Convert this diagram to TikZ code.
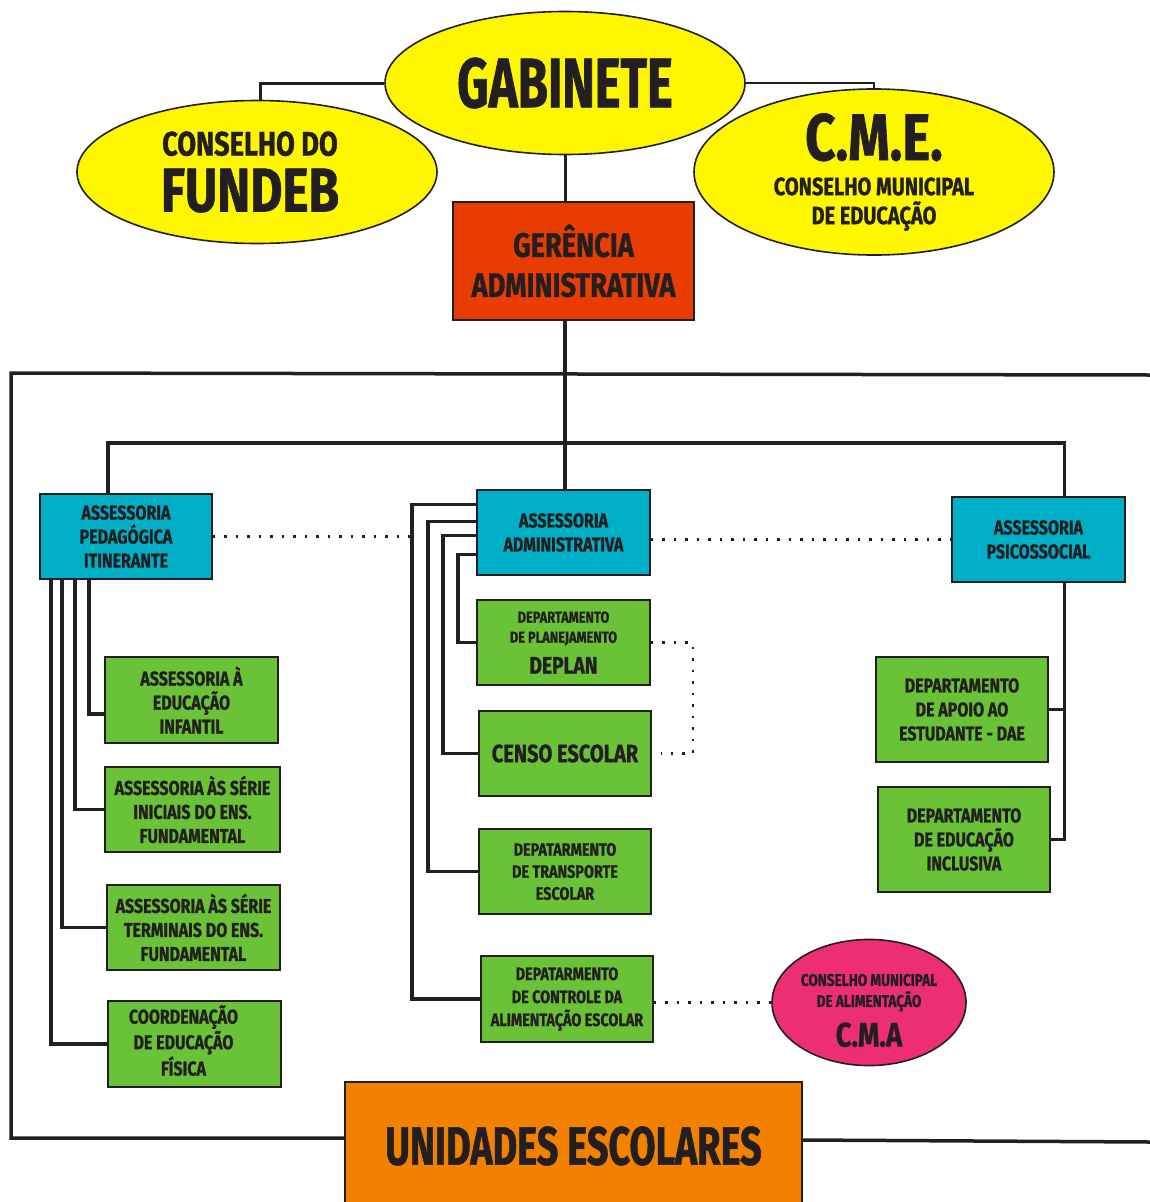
\documentclass[tikz,border=0pt]{standalone}
\usepackage{fontspec}
\newfontfamily\orgf{Fira Sans}[FakeStretch=0.8,BoldFeatures={FakeBold=1}]
\newfontfamily\orgfc{Fira Sans}[FakeStretch=0.7,BoldFeatures={FakeBold=1}]
\usetikzlibrary{shapes.geometric}
\definecolor{ink}{HTML}{231F20}
\definecolor{amarelo}{HTML}{FFF700}
\definecolor{vermelho}{HTML}{E83C00}
\definecolor{ciano}{HTML}{00AEC6}
\definecolor{verde}{HTML}{6AC236}
\definecolor{laranja}{HTML}{F28100}
\definecolor{rosa}{HTML}{EE2E74}
\newcommand\fnt[2]{\orgf\bfseries\fontsize{#1}{#2}\selectfont}
\newcommand\fntc[2]{\orgfc\bfseries\fontsize{#1}{#2}\selectfont}

\begin{document}
\begin{tikzpicture}[x=1pt,y=-1pt,
      every node/.style={align=center,text=ink,inner sep=0pt},
      oval/.style={ellipse,draw=ink,line width=1.6pt,fill=amarelo,
        minimum width=360pt,minimum height=143pt},
      caixa/.style={rectangle,draw=ink,line width=1.6pt,minimum width=172pt,
        minimum height=85pt,font=\fnt{20}{24}},
      azul/.style={caixa,fill=ciano},
      folha/.style={caixa,fill=verde},
      liga/.style={draw=ink,line width=3.5pt},
      pontos/.style={draw=ink,line width=2.5pt,dash pattern=on 2.5pt off 9pt}]
  \useasboundingbox (0,0) rectangle (1150,1202);
  % topo
  \draw[liga] (1150,375)--(11,373)--(11,1138)--(345,1138);
  \draw[liga] (802,1140)--(1150,1142);
  \node[oval,font=\fntc{70}{70}] (gab) at (565,83) {GABINETE};
  \node[oval,font=\fnt{34}{56}] (fundeb) at (257,172)
     {CONSELHO DO\hspace*{14pt}\\{\fnt{62}{56}FUNDEB}\hspace*{14pt}};
  \node[oval,font=\fnt{25}{29}] (cme) at (874,172)
     {{\fnt{66}{29}C.M.E.}\\[6pt]CONSELHO MUNICIPAL\\DE EDUCAÇÃO};
  \node[caixa,fill=vermelho,minimum width=241pt,minimum height=118pt,
     font=\fnt{34}{40}] (ger) at (573.5,261) {GERÊNCIA\\ADMINISTRATIVA};
  \draw[liga,line width=3pt] (gab.west) -| ([xshift=3pt]fundeb.north);
  \draw[draw=ink,line width=1.5pt] (gab.east) -| (cme.north);
  \draw[liga,line width=3pt] (gab.south) -- (gab.south |- ger.north);
  % assessorias
  \node[azul] (apeda) at (126,536.5) {ASSESSORIA\\PEDAGÓGICA\\ITINERANTE};
  \node[azul,minimum width=173pt] (aadm) at (563.5,532.5) {ASSESSORIA\\ADMINISTRATIVA};
  \node[azul,minimum width=173pt] (apsi) at (1038.5,539.5) {ASSESSORIA\\PSICOSSOCIAL};
  \coordinate (barra) at (565,443);
  \draw[liga] (gab.south |- ger.south) -- (gab.south |- aadm.north);
  \draw[liga] ([xshift=-18pt]apeda.north) |- (barra) -| ([xshift=26pt]apsi.north);
  \draw[pontos] (apeda.east) -- ++(200pt,0pt);
  \draw[pontos] (apsi.west -| aadm.east) -- (apsi.west);
  % coluna esquerda
  \node[folha,minimum width=173pt,minimum height=86pt] (ainf) at (191.5,700)
     {ASSESSORIA À\\EDUCAÇÃO\\INFANTIL};
  \node[folha,minimum width=175pt] (aini) at (192.5,809.5)
     {ASSESSORIA ÀS SÉRIE\\INICIAIS DO ENS.\\FUNDAMENTAL};
  \node[folha,minimum width=173pt] (ater) at (193.5,927.5)
     {ASSESSORIA ÀS SÉRIE\\TERMINAIS DO ENS.\\FUNDAMENTAL};
  \node[folha,minimum width=173pt,minimum height=86pt] (cfis) at (194.5,1044)
     {\begin{tabular}{@{}c@{}}COORDENAÇÃO\\DE EDUCAÇÃO\\FÍSICA\end{tabular}\hspace*{22pt}};
  \draw[liga] ([xshift=-37pt]apeda.south) |- ([yshift=-14pt]ainf.west);
  \draw[liga] ([xshift=-51pt]apeda.south) |- (aini.west);
  \draw[liga] ([xshift=-64pt]apeda.south) |- (ater.west);
  \draw[liga] ([xshift=-75pt]apeda.south) |- (cfis.west);
  % coluna central
  \node[folha,minimum width=173pt,font=\fnt{16}{20}] (deplan) at (563.5,642.5)
     {DEPARTAMENTO\\DE PLANEJAMENTO\\[11pt]{\fnt{24}{20}DEPLAN}};
  \node[folha,font=\fnt{25}{25}] (censo) at (565,753.5) {CENSO ESCOLAR};
  \node[folha,font=\fnt{18}{22}] (trans) at (565,871.5)
     {DEPATARMENTO\\DE TRANSPORTE\\ESCOLAR};
  \node[folha,minimum height=86pt,font=\fnt{18}{23}] (alim) at (567,999)
     {DEPATARMENTO\\DE CONTROLE DA\\ALIMENTAÇÃO ESCOLAR};
  \draw[liga] ([yshift=28pt]aadm.west) -- ++(-64pt,0pt) |- (alim.west);
  \draw[liga] ([yshift=11pt]aadm.west) -- ++(-48pt,0pt) |- (trans.west);
  \draw[liga] ([yshift=-3pt]aadm.west) -- ++(-33pt,0pt) |- (censo.west);
  \draw[liga] ([yshift=-22pt]aadm.west) -- ++(-18pt,0pt) |- (deplan.west);
  \draw[pontos] (deplan.east) -- ++(42pt,0pt) |- ([xshift=9pt]censo.east);
  \node[ellipse,draw=ink,line width=1.6pt,fill=rosa,minimum width=194pt,
     minimum height=123pt,font=\fnt{17}{21}] (cma) at (869,1002.5)
     {\rule{0pt}{28pt}CONSELHO MUNICIPAL\\DE ALIMENTAÇÃO\\[10pt]{\fnt{34}{21}C.M.A}};
  \draw[pontos] (cma.west -| alim.east) -- (cma.west);
  % coluna direita
  \node[folha,minimum height=105pt] (dae) at (962,709.5)
     {DEPARTAMENTO\\DE APOIO AO\\ESTUDANTE - DAE};
  \node[folha,minimum height=105pt] (incl) at (964,839.5)
     {DEPARTAMENTO\\DE EDUCAÇÃO\\INCLUSIVA};
  \draw[liga] ([xshift=26pt]apsi.south) |- (incl.east);
  \draw[liga] (dae.east) -- ++(16pt,0pt);
  % base
  \node[caixa,fill=laranja,minimum width=457pt,minimum height=128pt,
     font=\fntc{54}{54}] (unid) at (573.5,1146) {UNIDADES ESCOLARES};
\end{tikzpicture}
\end{document}
